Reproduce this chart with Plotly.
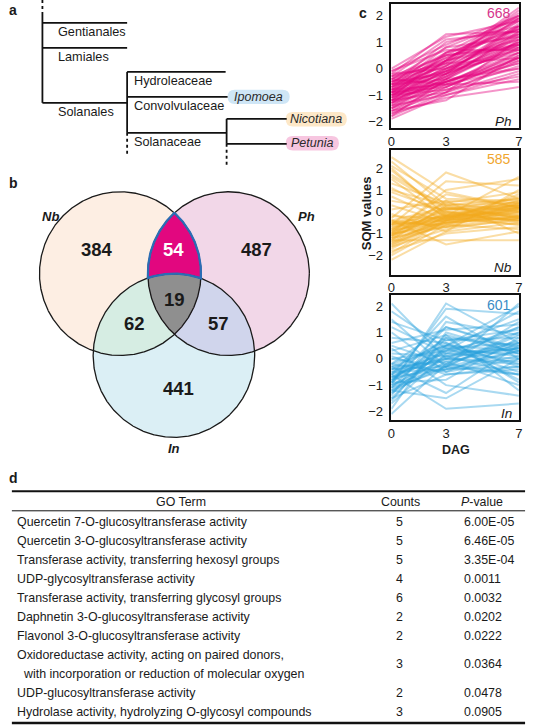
import numpy as np
import plotly.graph_objects as go

W, H = 534, 728

# ------------------------------------------------------------------ data
tree_orders = ["Gentianales", "Lamiales", "Solanales"]
tree_families = ["Hydroleaceae", "Convolvulaceae", "Solanaceae"]
tree_genera = ["Ipomoea", "Nicotiana", "Petunia"]

venn_sets = ["Nb", "Ph", "In"]
venn_regions = ["Nb", "Ph", "In", "Nb&Ph", "Nb&In", "Ph&In", "Nb&Ph&In"]
venn_counts = [384, 487, 441, 54, 62, 57, 19]

som_days = [0, 3, 7]
som_species = ["Ph", "Nb", "In"]
som_counts = [668, 585, 601]

# representative SOM trajectories (value at day 0, 3, 7)
ph_lines = [
    (-1.9, -1.0, -0.2), (-1.8, -0.9, 0.3), (-1.7, -1.1, -0.7), (-1.6, -0.6, 0.8),
    (-1.5, -0.8, 0.1), (-1.5, -0.3, 1.2), (-1.4, -0.5, 0.6), (-1.4, -1.0, -0.4),
    (-1.3, -0.2, 1.6), (-1.3, -0.7, 0.4), (-1.2, -0.4, 1.0), (-1.2, 0.1, 1.9),
    (-1.1, -0.6, 0.0), (-1.1, -0.1, 1.4), (-1.0, -0.3, 0.8), (-1.0, 0.3, 2.1),
    (-1.0, -0.8, -0.3), (-0.9, 0.0, 1.2), (-0.9, -0.5, 0.5), (-0.9, 0.5, 1.8),
    (-0.8, -0.2, 1.0), (-0.8, 0.2, 2.2), (-0.8, -0.6, 0.2), (-0.7, 0.4, 1.5),
    (-0.7, -0.1, 0.6), (-0.7, 0.8, 1.9), (-0.6, 0.1, 1.3), (-0.6, -0.4, 0.9),
    (-0.6, 1.0, 1.6), (-0.5, 0.6, 2.0), (-0.5, 0.2, 0.4), (-0.5, -0.2, 1.7),
    (-0.4, 0.8, 1.2), (-0.4, 0.3, 2.3), (-0.3, 1.1, 1.4), (-0.3, 0.5, 0.9),
    (-0.2, 1.3, 1.4), (-0.2, 0.0, 1.1), (-0.1, 0.9, 2.0), (-0.1, 0.7, 0.7),
    (0.0, 1.2, 1.8), (-1.6, -1.2, 0.5), (-1.2, -0.9, 1.1), (-0.4, -0.6, -0.5),
    (-1.8, -0.4, 0.0), (-1.1, 0.6, 1.5), (-0.9, 0.3, 0.9), (-1.3, 0.0, 0.7),
    (-1.2, -0.5, 0.3), (-1.0, -0.1, 1.0), (-0.8, 0.0, 1.6), (-1.4, -0.2, 0.9),
    (-0.6, 0.3, 1.1), (-1.1, -0.3, 1.3), (-0.9, -0.2, 0.7), (-0.7, 0.1, 1.8),
    (-1.5, -0.5, 0.4), (-1.3, -0.4, 1.4), (-0.5, 0.4, 1.6), (-1.0, -0.5, 0.2),
    (-0.8, 0.6, 1.3), (-1.6, -0.9, -0.1), (-0.3, 0.2, 1.9), (-1.2, 0.3, 2.0),
    (-0.9, -0.7, 0.4), (-0.6, -0.1, 1.5), (-1.7, -0.7, 0.6), (-0.4, 0.5, 0.8),
]
nb_lines = [
    (2.5, 0.9, 0.2), (2.3, 0.3, -0.3), (2.1, 0.6, 0.5), (1.9, -0.1, -0.4),
    (1.7, 0.2, 0.3), (1.5, -0.3, -0.6), (1.3, 0.4, 0.9), (1.1, -0.2, 0.0),
    (0.9, 0.0, -0.5), (0.7, -0.4, 0.2), (0.5, 0.1, 0.6), (0.3, -0.5, -0.2),
    (-0.2, -0.3, 0.1), (-0.4, 0.2, -0.3), (-0.5, -0.6, 0.4), (-0.6, 0.0, -0.1),
    (-0.7, -0.4, 0.8), (-0.8, 0.4, 0.0), (-0.9, -0.2, -0.6), (-1.0, 0.1, 0.3),
    (-1.0, -0.7, -0.2), (-1.1, -0.3, 0.5), (-1.2, 0.0, -0.4), (-1.2, -0.5, 0.1),
    (-1.3, 0.3, 0.6), (-1.4, -0.6, -0.8), (-1.5, -0.2, 0.2), (-1.6, -0.8, -0.3),
    (-1.7, -0.4, 0.4), (-1.8, -1.0, -0.7), (-2.0, -0.6, 0.0), (-2.2, -0.9, -0.5),
    (-0.3, 1.8, 0.6), (-0.6, 1.4, 1.2), (-1.0, 1.0, 1.5), (-0.9, 0.8, 0.2),
    (-0.4, -1.5, -0.9), (-1.3, -1.3, -1.3), (-0.1, -0.9, 1.0), (0.1, 0.5, -1.0),
    (-0.5, -0.2, 1.6), (-0.8, -0.1, 0.3), (-1.1, 0.2, -0.2), (-0.6, -0.4, -0.1),
    (-0.9, -0.3, 0.2), (-1.1, -0.1, -0.2), (-1.3, -0.4, 0.0), (-0.7, -0.2, 0.5),
    (-1.0, -0.5, 0.3), (-1.4, -0.2, -0.4), (-0.5, 0.1, 0.2), (-1.2, -0.7, 0.2),
    (-0.8, -0.5, -0.3), (-1.6, -0.3, 0.1), (-0.6, -0.3, 0.7), (-1.5, -0.5, -0.2),
    (1.0, 0.3, 0.4), (1.6, 0.1, 0.1), (2.0, -0.2, 0.3), (-1.9, -0.4, -0.3),
    (-0.4, -0.7, -0.4), (-1.1, 0.5, 0.4),
]
in_lines = [
    (2.1, 0.0, 0.5), (1.8, 0.4, -0.5), (1.5, -0.3, 1.0), (1.2, 0.2, 0.0),
    (1.0, -0.5, 0.6), (0.8, 0.6, -0.8), (0.5, -0.2, 1.4), (0.3, 0.9, 0.2),
    (0.1, -0.6, -0.3), (0.0, 0.3, 1.8), (-0.2, 1.2, 0.4), (-0.3, -0.1, -1.0),
    (-0.4, 0.7, 1.1), (-0.5, -0.4, 0.3), (-0.6, 1.6, 0.0), (-0.7, 0.1, -0.6),
    (-0.8, 0.5, 1.5), (-0.9, -0.8, 0.8), (-1.0, 2.1, 0.6), (-1.0, 0.0, -0.2),
    (-1.1, 0.9, -1.2), (-1.2, -0.3, 2.1), (-1.3, 0.4, 0.1), (-1.4, 1.4, 0.9),
    (-1.5, -0.6, -0.4), (-1.6, 0.8, -0.9), (-1.7, 0.2, 1.2), (-1.9, 1.0, 0.2),
    (-2.1, -0.2, -0.6), (-0.6, -1.9, -1.7), (-0.3, -1.3, 0.5), (0.4, -1.0, -1.4),
    (-0.9, 1.9, 1.7), (-0.2, 0.5, 2.0), (0.6, 1.1, 1.3), (-1.2, -1.5, 0.0),
    (-0.4, 0.0, -0.1), (-0.8, -0.2, 0.7), (-0.7, 0.3, 0.2), (-1.1, -0.4, -0.3),
    (-0.5, 0.2, 0.4), (-0.7, -0.4, 0.1), (-0.9, 0.4, 0.6), (-0.3, 0.5, -0.2),
    (-1.0, -0.3, 0.3), (-0.6, 0.8, 0.5), (-1.2, 0.1, 0.6), (-0.4, -0.3, 0.9),
    (-0.8, 0.6, -0.3), (-1.1, 0.3, 1.0), (0.2, 0.1, 0.4), (-0.2, -0.5, 0.0),
    (-1.3, -0.1, 0.4), (-0.6, 0.0, 1.2), (1.4, 0.7, 0.8), (-1.5, 0.5, 0.3),
    (0.0, -0.3, -0.6), (-0.9, 1.2, 0.3),
]

go_terms = [
    "Quercetin 7-O-glucosyltransferase activity",
    "Quercetin 3-O-glucosyltransferase activity",
    "Transferase activity, transferring hexosyl groups",
    "UDP-glycosyltransferase activity",
    "Transferase activity, transferring glycosyl groups",
    "Daphnetin 3-O-glucosyltransferase activity",
    "Flavonol 3-O-glucosyltransferase activity",
    "Oxidoreductase activity, acting on paired donors,\nwith incorporation or reduction of molecular oxygen",
    "UDP-glucosyltransferase activity",
    "Hydrolase activity, hydrolyzing O-glycosyl compounds",
]
go_counts = [5, 5, 5, 4, 6, 2, 2, 3, 2, 3]
go_pvalues = ["6.00E-05", "6.46E-05", "3.35E-04", "0.0011", "0.0032",
              "0.0202", "0.0222", "0.0364", "0.0478", "0.0905"]

# ------------------------------------------------------------------ style
FONT = "Liberation Sans, Arial, Helvetica, sans-serif"
fig = go.Figure()
shapes = []
annots = []


def txt(x, y, s, size=12.5, color="#1a1a1a", xanchor="center", yanchor="middle",
        bold=False, italic=False, textangle=0, xref="x", yref="y"):
    if italic:
        s = "<i>" + s + "</i>"
    if bold:
        s = "<b>" + s + "</b>"
    annots.append(dict(x=x, y=y, xref=xref, yref=yref, text=s, showarrow=False,
                       xanchor=xanchor, yanchor=yanchor, textangle=textangle,
                       font=dict(family=FONT, size=size, color=color)))


def seg(x0, y0, x1, y1, w=1.8, color="#111", dash="solid"):
    shapes.append(dict(type="line", xref="x", yref="y", x0=x0, y0=y0, x1=x1, y1=y1,
                       line=dict(color=color, width=w, dash=dash)))


def pill(x0, x1, yc, h, fill):
    r = h / 2
    y0, y1 = yc - r, yc + r
    p = (f"M{x0+r},{y0} L{x1-r},{y0} Q{x1},{y0} {x1},{yc} Q{x1},{y1} {x1-r},{y1} "
         f"L{x0+r},{y1} Q{x0},{y1} {x0},{yc} Q{x0},{y0} {x0+r},{y0} Z")
    shapes.append(dict(type="path", xref="x", yref="y", path=p, fillcolor=fill,
                       line=dict(width=0), layer="below"))


# ------------------------------------------------------------------ panel a : tree
txt(3, 10, "a", size=14, bold=True, xanchor="left")
seg(39, 0, 39, 13, dash="dot")
seg(39, 13, 39, 103)
order_y = [23, 48, 103]
for name, yy in zip(tree_orders, order_y):
    seg(39, yy, 125, yy)
    txt(53, yy + 9, name, size=12.7, xanchor="left")
seg(125, 72, 125, 133)
seg(125, 133, 125, 155, dash="dot")
fam_y = [72, 97, 133]
fam_end = [225, 227, 226]
for name, yy, xe in zip(tree_families, fam_y, fam_end):
    seg(125, yy, xe, yy)
    txt(130, yy + 9.5, name, size=12.7, xanchor="left")
seg(226, 119, 226, 144)
seg(226, 144, 226, 165, dash="dot")
seg(226, 119, 287, 119)
seg(226, 144, 287, 144)
pill_specs = [(227, 290, 97, "#cfe6f6"), (286, 348, 119.5, "#fde8c8"), (286, 340, 143.5, "#f7c6e0")]
for name, (px0, px1, pyc, col) in zip(tree_genera, pill_specs):
    pill(px0, px1, pyc, 14.5, col)
    txt((px0 + px1) / 2, pyc, name, size=12.5, italic=True, color="#2a2a2a")

# ------------------------------------------------------------------ panel b : venn
txt(3, 183, "b", size=14, bold=True, xanchor="left")
R = 82.0
centers = {"Nb": (118.0, 274.0), "Ph": (228.0, 274.0), "In": (172.5, 356.0)}
theta = np.linspace(0, 2 * np.pi, 1441)


def circle_pts(name):
    cx, cy = centers[name]
    return cx + R * np.cos(theta), cy + R * np.sin(theta)


def inside(x, y, name, tol=0.05):
    cx, cy = centers[name]
    return (x - cx) ** 2 + (y - cy) ** 2 <= (R + tol) ** 2


def region(ins, outs=()):
    xs, ys = [], []
    for c in ins:
        x, y = circle_pts(c)
        m = np.ones_like(x, dtype=bool)
        for o in ins:
            if o != c:
                m &= inside(x, y, o)
        for o in outs:
            m &= ~inside(x, y, o, tol=-0.05)
        xs.append(x[m]); ys.append(y[m])
    for c in outs:
        x, y = circle_pts(c)
        m = np.ones_like(x, dtype=bool)
        for o in ins:
            m &= inside(x, y, o)
        xs.append(x[m]); ys.append(y[m])
    x = np.concatenate(xs); y = np.concatenate(ys)
    cx, cy = x.mean(), y.mean()
    order = np.argsort(np.arctan2(y - cy, x - cx))
    x, y = x[order], y[order]
    return np.append(x, x[0]), np.append(y, y[0])


def poly(x, y, fill, line_color="rgba(0,0,0,0)", lw=0):
    fig.add_trace(go.Scatter(x=x, y=y, mode="lines", fill="toself", fillcolor=fill,
                             line=dict(color=line_color, width=lw), hoverinfo="skip",
                             showlegend=False, xaxis="x", yaxis="y"))


base_fill = {"Nb": "#fdeee3", "Ph": "#f2d7e8", "In": "#dbeff5"}
for s in venn_sets:
    x, y = circle_pts(s)
    poly(x, y, base_fill[s])
x, y = region(["Nb", "In"]); poly(x, y, "#d6ede3")
x, y = region(["Ph", "In"]); poly(x, y, "#d0d5ec")
x, y = region(["Nb", "Ph"]); poly(x, y, "#e2077f")
x, y = region(["Nb", "Ph", "In"]); poly(x, y, "#8f8f8f")
for s in venn_sets:
    x, y = circle_pts(s)
    fig.add_trace(go.Scatter(x=x, y=y, mode="lines", line=dict(color="#1a1a1a", width=1.3),
                             hoverinfo="skip", showlegend=False, xaxis="x", yaxis="y"))
x, y = region(["Nb", "Ph"], ["In"])
fig.add_trace(go.Scatter(x=x, y=y, mode="lines", line=dict(color="#2a6db5", width=2.3),
                         hoverinfo="skip", showlegend=False, xaxis="x", yaxis="y"))

venn_pos = {"Nb": (94, 250), "Ph": (256, 250), "In": (177, 389), "Nb&Ph": (172, 250),
            "Nb&In": (132, 324), "Ph&In": (218, 324), "Nb&Ph&In": (173, 300)}
for reg, cnt in zip(venn_regions, venn_counts):
    col = "#ffffff" if reg == "Nb&Ph" else "#1a1a1a"
    txt(venn_pos[reg][0], venn_pos[reg][1], str(cnt), size=18.5, bold=True, color=col)
set_lab_pos = {"Nb": (47, 217), "Ph": (307, 217), "In": (173, 449)}
for s in venn_sets:
    txt(set_lab_pos[s][0], set_lab_pos[s][1], s, size=13, bold=True, italic=True)

# ------------------------------------------------------------------ panel c : SOM
txt(364, 13, "c", size=14, bold=True)
panel_px = [(4, 128.3), (150, 275), (295.7, 421)]
panel_range = [(-2.25, 2.44), (-2.88, 2.84), (-2.34, 2.41)]
line_cols = ["rgba(228,0,127,0.42)", "rgba(242,170,30,0.40)", "rgba(40,160,220,0.40)"]
text_cols = ["#d6358c", "#f0a62e", "#3a8cc6"]
all_lines = [ph_lines, nb_lines, in_lines]
x0p, x1p = 393.3, 522.7
for i in range(3):
    xa = f"x{i+2}"; ya = f"y{i+2}"
    for ln in all_lines[i]:
        fig.add_trace(go.Scatter(x=som_days, y=list(ln), mode="lines",
                                 line=dict(color=line_cols[i], width=2.0),
                                 hoverinfo="skip", showlegend=False, xaxis=xa, yaxis=ya))
    top, bot = panel_px[i]
    ax = dict(domain=[x0p / W, x1p / W], range=[0, 7], tickvals=som_days,
              showline=True, mirror=True, linecolor="#111", linewidth=1.6,
              showgrid=False, zeroline=False, ticks="",
              tickfont=dict(family=FONT, size=13, color="#1a1a1a"),
              anchor=ya, fixedrange=True)
    ay = dict(domain=[1 - bot / H, 1 - top / H], range=list(panel_range[i]),
              tickvals=[-2, -1, 0, 1, 2], showline=True, mirror=True, linecolor="#111",
              linewidth=1.6, showgrid=False, zeroline=False, ticks="outside", ticklen=4,
              tickcolor="rgba(0,0,0,0)", tickfont=dict(family=FONT, size=13, color="#1a1a1a"),
              anchor=xa, fixedrange=True)
    fig.layout[f"xaxis{i+2}"] = ax
    fig.layout[f"yaxis{i+2}"] = ay
    txt(517, top + 9.5, str(som_counts[i]), size=14, color=text_cols[i], xanchor="right")
    txt(518, bot - 7, som_species[i], size=13.5, italic=True, xanchor="right")
txt(368, 213, "SOM values", size=13, bold=True, textangle=-90)
txt(459, 451, "DAG", size=12.5, bold=True)

# ------------------------------------------------------------------ panel d : table
txt(3, 479, "d", size=14, bold=True, xanchor="left")
seg(8, 492, 529, 492, w=2)
seg(8, 511.5, 529, 511.5, w=1)
seg(8, 724, 529, 724, w=2.6)
TS = 12.4
txt(180, 503, "GO Term", size=TS)
txt(403, 503, "Counts", size=TS)
txt(485, 503, "<i>P</i>-value", size=TS)
ycur = 522.5
step = 19
for term, cnt, pv in zip(go_terms, go_counts, go_pvalues):
    parts = term.split("\n")
    ys = [ycur + k * step for k in range(len(parts))]
    for k, (part, yy) in enumerate(zip(parts, ys)):
        txt(11.5 if k == 0 else 17, yy, part, size=TS, xanchor="left")
    yc = float(np.mean(ys))
    txt(402, yc, str(cnt), size=TS)
    txt(465, yc, pv, size=TS, xanchor="left")
    ycur = ys[-1] + step

# ------------------------------------------------------------------ layout
fig.update_layout(
    width=W, height=H, margin=dict(l=0, r=0, t=0, b=0),
    paper_bgcolor="white", plot_bgcolor="white", showlegend=False,
    xaxis=dict(domain=[0, 1], range=[0, W], visible=False, fixedrange=True, anchor="y"),
    yaxis=dict(domain=[0, 1], range=[H, 0], visible=False, fixedrange=True, anchor="x"),
    shapes=shapes, annotations=annots,
)
fig.write_html("out.html", config={"displayModeBar": False},
               post_script="document.body.style.margin='0';document.body.style.overflow='hidden';")
